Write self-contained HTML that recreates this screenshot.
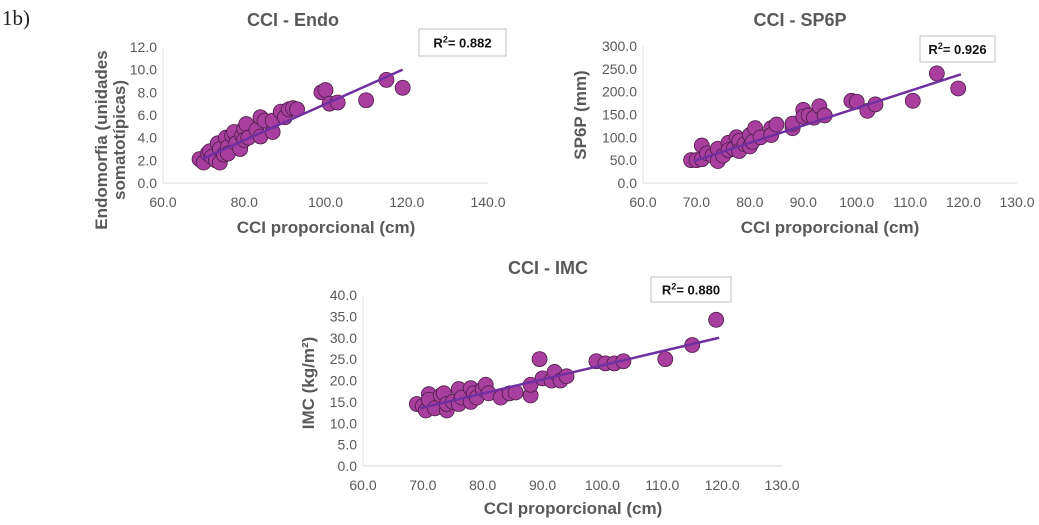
<!DOCTYPE html>
<html><head><meta charset="utf-8"><style>
html,body{margin:0;padding:0;background:#fff;}
svg{display:block;font-family:"Liberation Sans",sans-serif;}
</style></head><body>
<svg id="fig" width="1039" height="525" viewBox="0 0 1039 525">
<text x="2" y="25" font-family="Liberation Serif, serif" font-size="21" fill="#222">1b)</text>
</svg>
<script>
// ---- Chart 1: CCI - Endo ----
const endoX = [69,70,71,71.5,72,73,73.5,74,74,75,75.5,76,76,77,77.5,78,79,79.5,80,80,80.5,81,83,84,84,85,87,87,89,90,91,92,93,99,100,101,103,110,115,119];
const endoY = [2.1,1.8,2.6,2.8,2.3,2.0,3.5,1.8,3.0,2.5,4.0,3.2,2.6,4.2,4.5,3.5,3.0,4.2,4.8,3.8,5.2,4.0,4.7,5.8,4.1,5.5,4.5,5.5,6.3,5.8,6.5,6.6,6.5,8.0,8.2,7.0,7.1,7.3,9.1,8.4];
const endoTrend = [[69.5,2.1],[119,10.0]];
const endoXTicks = [60,80,100,120,140];
const endoYTicks = [0,2,4,6,8,10,12];
// ---- Chart 2: CCI - SP6P ----
const spX = [69,70,71,71,72,73,74,74,75,76,76,77,77.5,78,78,79,80,80,80.5,81,82,84,84,85,88,88,90,90,91,92,93,94,99,100,102,103.5,110.5,115,119];
const spY = [50,50,52,82,65,60,75,48,60,88,72,75,100,92,70,85,80,105,90,120,100,120,105,128,120,130,160,145,148,143,168,148,180,178,158,172,180,240,207];
const spTrend = [[69.5,48],[119.5,238]];
const spXTicks = [60,70,80,90,100,110,120,130];
const spYTicks = [0,50,100,150,200,250,300];
// ---- Chart 3: CCI - IMC ----
const imcX = [69,70,70.5,71,71,72,73,73.5,74,74,75,76,76,76.5,78,78,78.5,79,80,80.5,81,83,84.5,85.5,88,88,89.5,90,91.5,92,93,94,99,100.5,102,103.5,110.5,115,119];
const imcY = [14.5,14,13,16.8,15.5,13.5,16.5,17,13,14.5,15,18,14.5,16,15,18.2,17,16,18,19,17,16,17,17.2,16.5,19,25,20.5,20,22,20,21,24.5,24,24,24.5,25,28.3,34.2];
const imcTrend = [[69.5,13.5],[119.5,30]];
const imcXTicks = [60,70,80,90,100,110,120,130];
const imcYTicks = [0,5,10,15,20,25,30,35,40];

const NS = 'http://www.w3.org/2000/svg';
const svg = document.getElementById('fig');
function mk(tag, attrs, parent, txt){
  const e = document.createElementNS(NS, tag);
  for (const k in attrs) e.setAttribute(k, attrs[k]);
  if (txt !== undefined) e.textContent = txt;
  (parent || svg).appendChild(e);
  return e;
}
function chart(c){
  const g = mk('g', {});
  
  
  const sx = v => c.x0 + (v - c.xmin) / (c.xmax - c.xmin) * (c.x1 - c.x0);
  const sy = v => c.y0 - (v - c.ymin) / (c.ymax - c.ymin) * (c.y0 - c.y1);
  const vaxis = mk('line', {x1:c.x0, x2:c.x0, y1:c.y1, y2:c.y0, stroke:'#e3e3e3', 'stroke-width':1}, g);
  
  
  const haxis = mk('line', {x1:c.x0, x2:c.x1, y1:c.y0, y2:c.y0, stroke:'#d9d9d9', 'stroke-width':1}, g);
  
  
  c.yt.forEach(v => {
    const t = mk('text', {x:c.x0 - 6, y:sy(v) + 5, 'text-anchor':'end', 'font-size':14, fill:'#595959'}, g, v.toFixed(1));
    
    
  });
  c.xt.forEach(v => {
    const t = mk('text', {x:sx(v), y:c.y0 + 24, 'text-anchor':'middle', 'font-size':14, fill:'#595959'}, g, v.toFixed(1));
    
    
  });
  c.xs.forEach((xv, i) => {
    const p = mk('circle', {cx:sx(xv), cy:sy(c.ys[i]), r:7.5, fill:'#a83f9f', stroke:'#4a1d46', 'stroke-width':0.8}, g);
    
    
  });
  const tl = mk('line', {x1:sx(c.tr[0][0]), y1:sy(c.tr[0][1]), x2:sx(c.tr[1][0]), y2:sy(c.tr[1][1]), stroke:'#7030a0', 'stroke-width':2.5}, g);
  
  
  const tt = mk('text', {x:c.tx, y:c.ty, 'text-anchor':'middle', 'font-size':18, 'font-weight':'bold', fill:'#595959'}, g, c.title);
  
  
  const bx = mk('rect', {x:c.r[0], y:c.r[1], width:c.r[2], height:c.r[3], fill:'#fff', stroke:'#bfbfbf', 'stroke-width':1}, g);
  
  
  const rt = mk('text', {x:c.r[0] + c.r[2]/2, y:c.r[1] + c.r[3]/2 + 5, 'text-anchor':'middle', 'font-size':13, 'font-weight':'bold', fill:'#111'}, g);
  
  
  mk('tspan', {}, rt, 'R');
  mk('tspan', {dy:-5, 'font-size':9}, rt, '2');
  mk('tspan', {dy:5}, rt, '= ' + c.r2);
  const xl = mk('text', {x:c.xlx, y:c.xly, 'text-anchor':'middle', 'font-size':17, 'font-weight':'bold', fill:'#595959'}, g, 'CCI proporcional (cm)');
  
  
  c.yl.forEach(l => {
    const t = mk('text', {x:0, y:0, transform:`translate(${l[0]},${l[1]}) rotate(-90)`, 'text-anchor':'middle', 'font-size':17, 'font-weight':'bold', fill:'#595959'}, g, l[2]);
    
    
  });
}
chart({name:'chart-cci-endo', x0:163, x1:488, y0:183, y1:47, xmin:60, xmax:140, ymin:0, ymax:12,
  xs:endoX, ys:endoY, tr:endoTrend, xt:endoXTicks, yt:endoYTicks, title:'CCI - Endo', tx:293, ty:26,
  r:[419,29,87,27], r2:'0.882', xlx:326, xly:233,
  yl:[[107,140,'Endomorfia (unidades'],[125,140,'somatotípicas)']]});
chart({name:'chart-cci-sp6p', x0:643, x1:1017, y0:183, y1:46, xmin:60, xmax:130, ymin:0, ymax:300,
  xs:spX, ys:spY, tr:spTrend, xt:spXTicks, yt:spYTicks, title:'CCI - SP6P', tx:800, ty:26,
  r:[920,36,75,26], r2:'0.926', xlx:830, xly:233,
  yl:[[586,115,'SP6P (mm)']]});
chart({name:'chart-cci-imc', x0:363, x1:782, y0:466, y1:295, xmin:60, xmax:130, ymin:0, ymax:40,
  xs:imcX, ys:imcY, tr:imcTrend, xt:imcXTicks, yt:imcYTicks, title:'CCI - IMC', tx:548, ty:274,
  r:[651,277,80,25], r2:'0.880', xlx:573, xly:514,
  yl:[[314,383,'IMC  (kg/m²)']]});
</script>
</body></html>
